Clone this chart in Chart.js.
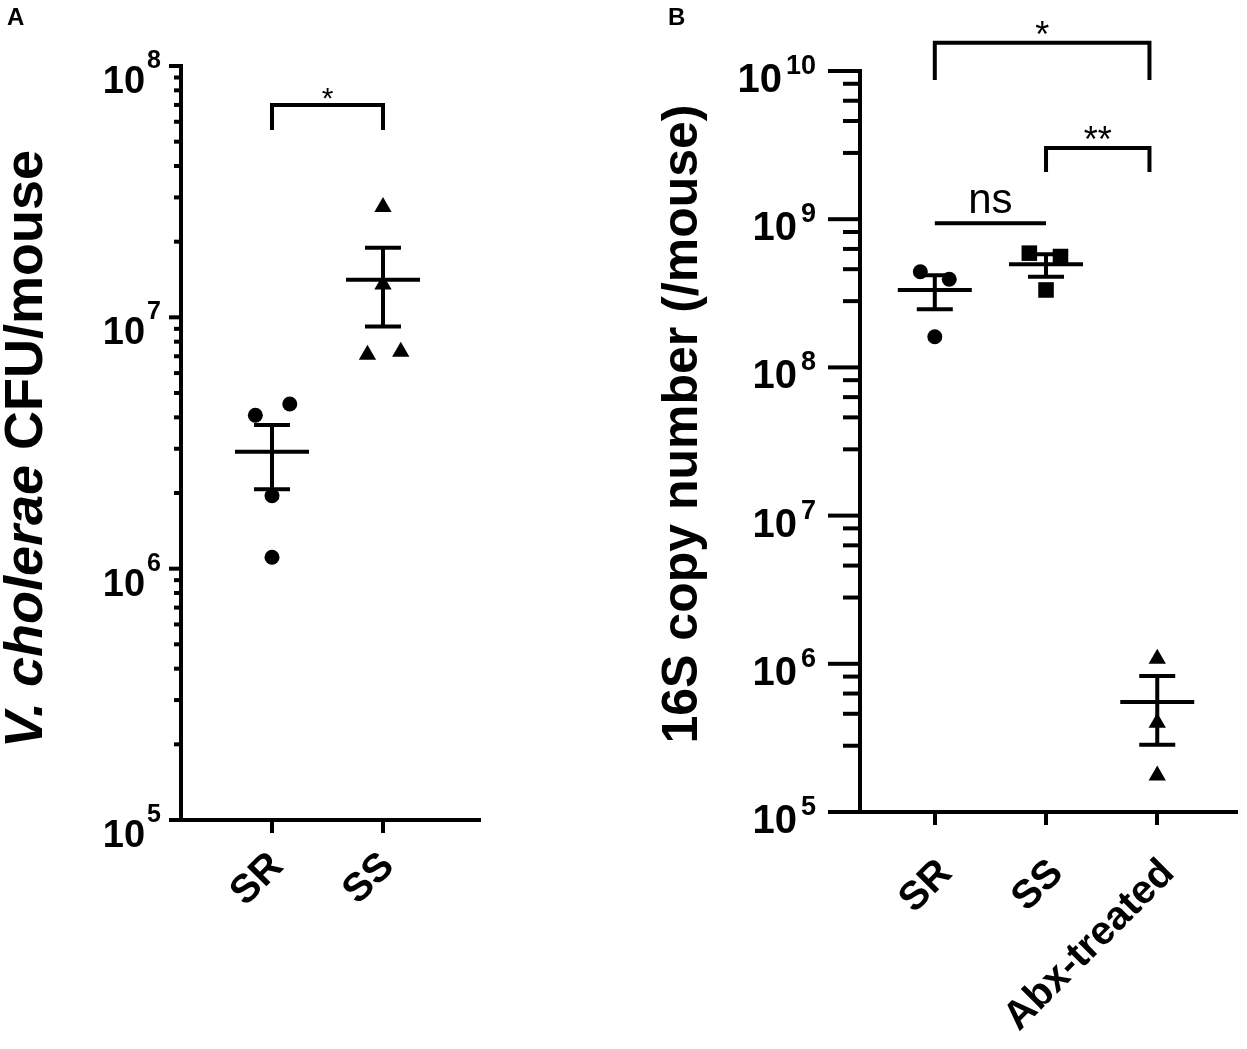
<!DOCTYPE html>
<html>
<head>
<meta charset="utf-8">
<script src="https://cdn.jsdelivr.net/npm/chart.js@4.4.1/dist/chart.umd.min.js"></script>
<style>
  html, body { margin: 0; padding: 0; background: #fff; }
  .panel { position: absolute; top: 0; height: 1049px; }
  #wrapA { left: 0; width: 620px; }
  #wrapB { left: 620px; width: 627px; }
</style>
</head>
<body>
<div class="panel" id="wrapA"><canvas id="chartA"></canvas></div>
<div class="panel" id="wrapB"><canvas id="chartB"></canvas></div>
<script>
// ---- Panel A: V. cholerae CFU per mouse ----
const groupsA = ['SR', 'SS'];
const pointsSrA = [4.08e6, 4.52e6, 1.95e6, 1.11e6];
const pointsSsA = [2.75e7, 1.35e7, 7.1e6, 7.3e6];
const jitterSrA = [-0.15, 0.16, 0, 0];
const jitterSsA = [0, 0, -0.14, 0.16];
const meanA = [2.92e6, 1.41e7];
const semUpA = [3.73e6, 1.89e7];
const semLowA = [2.07e6, 9.2e6];
const decadesA = [5, 6, 7, 8];
const minorStepsA = [2, 3, 4, 5, 6, 7, 8, 9];
const bracketsA = [
    { from: 1, to: 2, top: 7.0e7, leg: 5.56e7, text: '*' }
];

// ---- Panel B: 16S copy number per mouse ----
const groupsB = ['SR', 'SS', 'Abx-treated'];
const pointsSrB = [4.42e8, 3.93e8, 1.61e8];
const pointsSsB = [5.9e8, 5.6e8, 3.33e8];
const pointsAbxB = [1.08e6, 4.0e5, 1.76e5];
const jitterSrB = [-0.13, 0.13, 0];
const jitterSsB = [-0.15, 0.13, 0];
const jitterAbxB = [0, 0, 0];
const meanB = [3.33e8, 4.96e8, 5.52e5];
const semUpB = [4.18e8, 5.8e8, 8.28e5];
const semLowB = [2.47e8, 4.09e8, 2.84e5];
const decadesB = [5, 6, 7, 8, 9, 10];
const minorStepsB = [2.8, 4.6, 6.3, 8.2];
const bracketsB = [
    { from: 1, to: 2.93, top: 1.55e10, leg: 8.7e9, text: '*' },
    { from: 2, to: 2.93, top: 3.02e9, leg: 2.08e9, text: '**' },
    { from: 1, to: 2, top: 9.4e8, leg: null, text: 'ns' }
];

const FONT = '"Liberation Sans", Arial, Helvetica, sans-serif';

function toPoints(values, group, jitter) {
    return values.map((v, i) => ({ x: group + jitter[i], y: v }));
}

function line(ctx, x1, y1, x2, y2) {
    ctx.beginPath();
    ctx.moveTo(x1, y1);
    ctx.lineTo(x2, y2);
    ctx.stroke();
}

// draws error bars, log ticks with superscript labels, brackets, labels and titles
function decoPlugin(cfg) {
    return {
        id: 'deco',
        afterDraw(chart) {
            const ctx = chart.ctx;
            const xs = chart.scales.x, ys = chart.scales.y;
            const axisX = chart.chartArea.left;
            const axisY = chart.chartArea.bottom;
            ctx.save();
            ctx.strokeStyle = '#000';
            ctx.fillStyle = '#000';
            ctx.lineWidth = 4;

            // mean +/- SEM
            cfg.mean.forEach((m, i) => {
                const cx = xs.getPixelForValue(i + 1);
                const ym = ys.getPixelForValue(m);
                const yu = ys.getPixelForValue(cfg.up[i]);
                const yl = ys.getPixelForValue(cfg.low[i]);
                line(ctx, cx - 37, ym, cx + 37, ym);
                line(ctx, cx, yu, cx, yl);
                line(ctx, cx - 18, yu, cx + 18, yu);
                line(ctx, cx - 18, yl, cx + 18, yl);
            });

            // y ticks: decades long, minor steps short
            cfg.decades.forEach((d, k) => {
                const py = ys.getPixelForValue(Math.pow(10, d));
                line(ctx, axisX - cfg.majorLen, py, axisX, py);
                if (k < cfg.decades.length - 1) {
                    cfg.minor.forEach(s => {
                        const my = ys.getPixelForValue(s * Math.pow(10, d));
                        line(ctx, axisX - cfg.minorLen, my, axisX, my);
                    });
                }
                // label 10^d
                const right = axisX - cfg.majorLen - cfg.labelGap;
                ctx.textAlign = 'right';
                ctx.textBaseline = 'alphabetic';
                ctx.font = 'bold ' + cfg.expSize + 'px ' + FONT;
                const exp = String(d);
                const ew = ctx.measureText(exp).width;
                ctx.fillText(exp, right, py + cfg.expDy);
                ctx.font = 'bold ' + cfg.baseSize + 'px ' + FONT;
                ctx.fillText('10', right - ew - cfg.expGap, py + cfg.baseDy);
            });

            // x category labels, rotated 45 degrees
            ctx.font = 'bold 40px ' + FONT;
            ctx.textAlign = 'right';
            ctx.textBaseline = 'middle';
            cfg.groups.forEach((g, i) => {
                const px = xs.getPixelForValue(i + 1);
                ctx.save();
                ctx.translate(px + cfg.labelDx, axisY + cfg.labelDy);
                ctx.rotate(-Math.PI / 4);
                ctx.fillText(g, 0, 0);
                ctx.restore();
            });

            // significance brackets
            cfg.brackets.forEach(b => {
                const x1 = xs.getPixelForValue(b.from);
                const x2 = xs.getPixelForValue(b.to);
                const yt = ys.getPixelForValue(b.top);
                ctx.textAlign = 'center';
                ctx.textBaseline = 'alphabetic';
                if (b.leg !== null) {
                    const yl = ys.getPixelForValue(b.leg);
                    ctx.beginPath();
                    ctx.moveTo(x1, yl);
                    ctx.lineTo(x1, yt);
                    ctx.lineTo(x2, yt);
                    ctx.lineTo(x2, yl);
                    ctx.stroke();
                    ctx.font = cfg.starSize + 'px ' + FONT;
                    ctx.fillText(b.text, (x1 + x2) / 2, yt + cfg.starDy);
                } else {
                    line(ctx, x1, yt, x2, yt);
                    ctx.font = cfg.nsSize + 'px ' + FONT;
                    ctx.fillText(b.text, (x1 + x2) / 2, yt - 10);
                }
            });

            // y axis title (rotated)
            ctx.save();
            ctx.translate(cfg.titleX, cfg.titleY);
            ctx.rotate(-Math.PI / 2);
            ctx.textAlign = 'left';
            ctx.textBaseline = 'alphabetic';
            let total = 0;
            cfg.title.forEach(part => {
                ctx.font = part.style + ' ' + cfg.titleSize + 'px ' + FONT;
                total += ctx.measureText(part.text).width;
            });
            let tx = -total / 2;
            cfg.title.forEach(part => {
                ctx.font = part.style + ' ' + cfg.titleSize + 'px ' + FONT;
                ctx.fillText(part.text, tx, 0);
                tx += ctx.measureText(part.text).width;
            });
            ctx.restore();

            // panel letter
            ctx.font = 'bold 24px ' + FONT;
            ctx.textAlign = 'left';
            ctx.textBaseline = 'alphabetic';
            ctx.fillText(cfg.letter, cfg.letterX, 25);
            ctx.restore();
        }
    };
}

function buildPanel(id, cfg) {
    new Chart(document.getElementById(id).getContext('2d'), {
        type: 'scatter',
        data: { datasets: cfg.datasets },
        options: {
            responsive: true,
            maintainAspectRatio: false,
            animation: false,
            layout: { padding: { top: cfg.top, right: cfg.right, left: 0, bottom: 0 } },
            plugins: { legend: { display: false }, tooltip: { enabled: false } },
            scales: {
                x: {
                    type: 'linear',
                    min: cfg.xMin,
                    max: cfg.xMax,
                    afterBuildTicks: s => { s.ticks = cfg.groups.map((g, i) => ({ value: i + 1 })); },
                    afterFit: s => { s.height = cfg.xHeight; },
                    grid: {
                        display: true, drawOnChartArea: false, drawTicks: true,
                        tickLength: 13, tickWidth: 4, tickColor: '#000', lineWidth: 4, color: '#000'
                    },
                    border: { display: true, width: 4, color: '#000' },
                    ticks: { display: false }
                },
                y: {
                    type: 'logarithmic',
                    min: Math.pow(10, cfg.decades[0]),
                    max: Math.pow(10, cfg.decades[cfg.decades.length - 1]),
                    afterFit: s => { s.width = cfg.yWidth; },
                    grid: { display: false },
                    border: { display: true, width: 4, color: '#000' },
                    ticks: { display: false }
                }
            }
        },
        plugins: [decoPlugin(cfg)]
    });
}

buildPanel('chartA', {
    groups: groupsA,
    datasets: [
        { data: toPoints(pointsSrA, 1, jitterSrA), pointStyle: 'circle', pointRadius: 7.5, backgroundColor: '#000', borderWidth: 0 },
        { data: toPoints(pointsSsA, 2, jitterSsA), pointStyle: 'triangle', pointRadius: 10, backgroundColor: '#000', borderWidth: 0 }
    ],
    mean: meanA, up: semUpA, low: semLowA,
    decades: decadesA, minor: minorStepsA, brackets: bracketsA,
    xMin: 0.18, xMax: 2.865, top: 66, right: 141, xHeight: 229, yWidth: 181,
    labelDx: 5, labelDy: 40,
    majorLen: 12, minorLen: 7, labelGap: 8, expGap: 2,
    baseSize: 38, expSize: 25, baseDy: 27, expDy: 2,
    starSize: 30, starDy: 3, nsSize: 42,
    title: [{ text: 'V. cholerae', style: 'italic bold' }, { text: ' CFU/mouse', style: 'bold' }],
    titleSize: 54, titleX: 42, titleY: 449,
    letter: 'A', letterX: 7
});

buildPanel('chartB', {
    groups: groupsB,
    datasets: [
        { data: toPoints(pointsSrB, 1, jitterSrB), pointStyle: 'circle', pointRadius: 7.5, backgroundColor: '#000', borderWidth: 0 },
        { data: toPoints(pointsSsB, 2, jitterSsB), pointStyle: 'rect', pointRadius: 11, backgroundColor: '#000', borderWidth: 0 },
        { data: toPoints(pointsAbxB, 3, jitterAbxB), pointStyle: 'triangle', pointRadius: 10, backgroundColor: '#000', borderWidth: 0 }
    ],
    mean: meanB, up: semUpB, low: semLowB,
    decades: decadesB, minor: minorStepsB, brackets: bracketsB,
    xMin: 0.3275, xMax: 3.708, top: 71, right: 0, xHeight: 237, yWidth: 240,
    labelDx: 11, labelDy: 55,
    majorLen: 32, minorLen: 17, labelGap: 12, expGap: 4,
    baseSize: 40, expSize: 27, baseDy: 21, expDy: 3,
    starSize: 36, starDy: 4, nsSize: 42,
    title: [{ text: '16S copy number (/mouse)', style: 'bold' }],
    titleSize: 50, titleX: 77, titleY: 424,
    letter: 'B', letterX: 48
});
</script>
</body>
</html>
